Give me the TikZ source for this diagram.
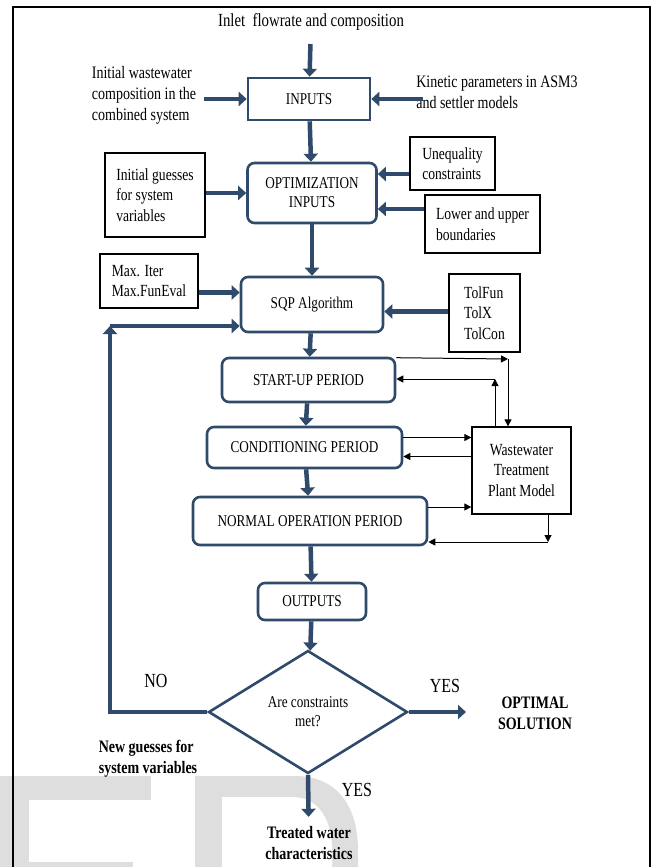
\documentclass[tikz,border=0pt]{standalone}
\usepackage{fontspec}
\setmainfont[FakeStretch=0.8]{Liberation Serif}
\usetikzlibrary{shapes.geometric,arrows.meta}
\definecolor{flowblue}{HTML}{2F4A6B}
\definecolor{wmgray}{HTML}{DEDEDE}
\begin{document}
\begin{tikzpicture}[x=1pt, y=-1pt,
    every node/.style={font=\fontsize{16.5}{19}\selectfont},
    lbl/.style={font=\fontsize{17.5}{21}\selectfont},
    mainbox/.style={draw=flowblue, line width=2.6pt, fill=white, align=center, inner sep=2pt},
    roundbox/.style={mainbox, rounded corners=7pt},
    parbox/.style={draw=black, line width=1.3pt, fill=white, align=left, inner sep=2pt, font=\fontsize{17}{20.5}\selectfont},
    boldlbl/.style={font=\fontsize{17.5}{21}\selectfont\bfseries, align=center},
    biglbl/.style={font=\fontsize{20}{22}\selectfont},
    flow/.style={draw=flowblue, line width=4.5pt, -{Triangle[length=8pt,width=14pt]}},
    thinflow/.style={draw=black, line width=1pt, -{Triangle[length=7pt,width=7pt]}}]
\useasboundingbox (0,0) rectangle (652,867);
% watermark
\fill[wmgray] (0,776) rectangle (151,800);
\fill[wmgray] (0,800) rectangle (29,867);
\fill[wmgray] (0,862) rectangle (133,867);
\fill[wmgray] (195,776) -- (295,776) .. controls (340,776) and (358,810) .. (358,850) -- (358,867) -- (195,867) -- cycle;
\fill[white] (222,797) -- (292,797) .. controls (320,797) and (332,822) .. (332,850) -- (332,867) -- (222,867) -- cycle;
\draw[line width=2.5pt] (13,867) -- (13,7) -- (650,7) -- (650,867);

\node[font=\fontsize{18.5}{21}\selectfont] (inlet) at (311,22) {Inlet\ \ flowrate and composition};
\node[mainbox, minimum width=122pt, minimum height=42pt] (inputs) at (309,99) {INPUTS};
\node[lbl, align=left] (initww) at (144,95) {Initial wastewater\\composition in the\\combined system};
\node[lbl, align=left] (kinetic) at (497,92) {Kinetic parameters in ASM3\\and settler models};

\node[roundbox, minimum width=129pt, minimum height=60pt] (optin) at (312,193) {OPTIMIZATION\\INPUTS};
\node[parbox, minimum width=100pt, minimum height=84pt] (guess) at (155,195) {Initial guesses\\for system\\variables};
\node[parbox, minimum width=85pt, minimum height=53pt] (uneq) at (452.5,163.5) {Unequality\\constraints};
\node[parbox, minimum width=115pt, minimum height=58pt] (bound) at (482.5,224) {Lower and upper\\boundaries};

\node[roundbox, minimum width=142pt, minimum height=55pt] (sqp) at (312,304.5) {SQP Algorithm};
\node[parbox, minimum width=98pt, minimum height=54pt] (maxit) at (149,281) {Max. Iter\\Max.FunEval};
\node[parbox, minimum width=71pt, minimum height=78pt] (tol) at (484.5,313) {TolFun\\TolX\\TolCon};

\node[roundbox, minimum width=173pt, minimum height=44pt] (startup) at (308.5,380) {START-UP PERIOD};
\node[roundbox, minimum width=195pt, minimum height=41pt] (cond) at (304.5,447.5) {CONDITIONING PERIOD};
\node[roundbox, minimum width=234pt, minimum height=48pt] (normal) at (310,521) {NORMAL OPERATION PERIOD};
\node[parbox, align=center, minimum width=99pt, minimum height=87pt] (wwtp) at (521.5,470.5) {Wastewater\\Treatment\\Plant Model};

\node[roundbox, minimum width=108pt, minimum height=37pt] (outputs) at (312,601.5) {OUTPUTS};
\node[diamond, draw=flowblue, line width=2.6pt, fill=white, minimum width=199pt, minimum height=123pt, inner sep=0pt, align=center] (check) at (308,712) {Are constraints\\met?};

\node[biglbl] (no) at (156,681) {NO};
\node[biglbl] (yesright) at (445,686) {YES};
\node[biglbl] (yesdown) at (357,790) {YES};
\node[boldlbl] (optimal) at (535,713) {OPTIMAL\\SOLUTION};
\node[boldlbl, align=left] (newguess) at (148,759) {New guesses for\\system variables};
\node[boldlbl] (treated) at (309,843) {Treated water\\characteristics};

\coordinate (back) at (110,326);
\coordinate (yesend) at (466,712);

\draw[flow, shorten <=10pt] (inlet) -- (inputs);
\draw[flow, shorten <=4pt] (inputs.west -| initww.east) -- (inputs.west);
\draw[flow, shorten <=-10pt] (inputs.east -| kinetic.west) -- (inputs.east);
\draw[flow] (inputs) -- (optin);
\draw[flow] (optin.west -| guess.east) -- (optin.west);
\coordinate (u) at ([yshift=19pt]optin.east);
\draw[flow] (u -| uneq.west) -- (u);
\coordinate (l) at ([yshift=-16pt]optin.east);
\draw[flow] (l -| bound.west) -- (l);
\draw[flow] (optin) -- (sqp);
\coordinate (m) at ([yshift=12pt]sqp.west);
\draw[flow] (m -| maxit.east) -- (m);
\coordinate (t) at ([yshift=-7pt]sqp.east);
\draw[flow] (t -| tol.west) -- (t);
\draw[flow] (sqp) -- (startup);
\draw[flow] (startup) -- (cond);
\draw[flow] (cond) -- (normal);
\draw[flow] (normal) -- (outputs);
\draw[flow] (outputs) -- (check);
\draw[flow] (check.east) -- (yesend);
\draw[flow, shorten >=6pt] (check.south) -- (treated);
\draw[flow] (check.west) -| (back);
\draw[flow] (back) -- (back -| sqp.west);

\coordinate (s1) at (508,359);
\draw[thinflow] ([yshift=-1pt]startup.north east) -- (s1);
\draw[thinflow] (s1) -- (s1 |- wwtp.north);
\coordinate (s2) at (495,379);
\draw[thinflow] (s2 |- wwtp.north) -- (s2);
\draw[thinflow] (s2) -- (s2 -| startup.east);
\coordinate (c1) at ([yshift=10pt]cond.east);
\draw[thinflow] (c1) -- (c1 -| wwtp.west);
\coordinate (c2) at ([yshift=-9pt]cond.east);
\draw[thinflow] (c2 -| wwtp.west) -- (c2);
\coordinate (n1) at ([yshift=14pt]normal.east);
\draw[thinflow] (n1) -- (n1 -| wwtp.west);
\coordinate (s3) at (548,542);
\draw[thinflow] (s3 |- wwtp.south) -- (s3);
\draw[thinflow] (s3) -- (s3 -| normal.east);
\end{tikzpicture}
\end{document}
